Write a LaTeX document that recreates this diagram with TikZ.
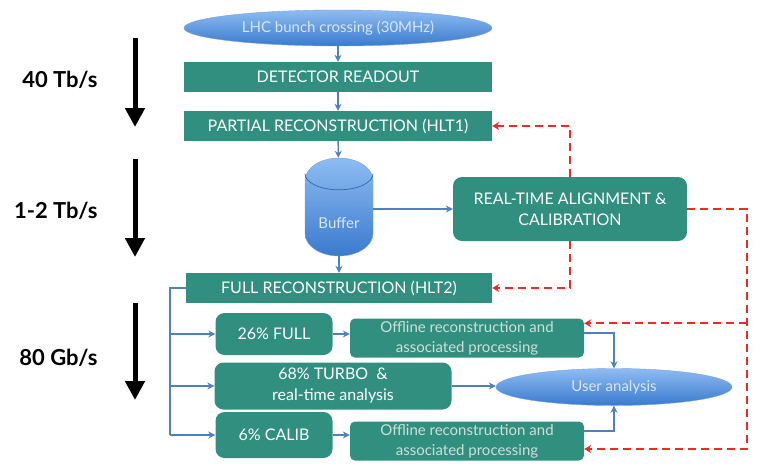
\documentclass[tikz,border=0pt]{standalone}
\usepackage{fontspec}
\setmainfont{Lato}
\usetikzlibrary{positioning,shapes.geometric,arrows.meta}
\definecolor{stageteal}{RGB}{49,143,128}
\definecolor{linkblue}{RGB}{79,129,189}
\definecolor{dashred}{RGB}{238,42,36}
\definecolor{ovallight}{RGB}{142,188,242}
\definecolor{ovaldark}{RGB}{58,122,205}
\definecolor{ovaltext}{RGB}{215,230,248}
\definecolor{softtext}{RGB}{205,224,218}
\tikzset{
	stage/.style={fill=stageteal, text=white, minimum width=308pt, minimum height=30pt, inner sep=0pt, font=\fontsize{16}{19}\selectfont},
	rbox/.style={fill=stageteal, text=white, rounded corners=9pt, align=center, inner sep=0pt, font=\fontsize{16}{21}\selectfont},
	offline/.style={fill=stageteal, text=softtext, rounded corners=5pt, align=center, minimum width=234pt, minimum height=39pt, inner sep=0pt, font=\fontsize{15}{20}\selectfont},
	oval/.style={ellipse, top color=ovallight, bottom color=ovaldark, draw=ovaldark!70, line width=0.4pt, text=ovaltext, inner sep=0pt, font=\fontsize{15}{18}\selectfont},
	flow/.style={linkblue, line width=1.4pt, -{Stealth[length=7pt, width=7pt]}},
	feedback/.style={dashred, line width=2.2pt, dash pattern=on 8pt off 5pt, -{Stealth[length=7pt, width=8pt]}},
	rate/.style={anchor=east, font=\fontsize{22}{25}\selectfont\bfseries},
	ratearrow/.style={line width=5pt, -{Triangle[length=19pt, width=19pt]}}
}

\begin{document}
\begin{tikzpicture}[x=1pt, y=-1pt]
	\useasboundingbox (0,0) rectangle (770,471);

	\node[rate] (rate1) at (101,80) {40 Tb/s};
	\node[rate] (rate2) at (101,211) {1-2 Tb/s};
	\node[rate] (rate3) at (101,358) {80 Gb/s};
	\coordinate (drop1a) at (135,38);
	\coordinate (drop1b) at (135,127);
	\coordinate (drop2a) at (135,159);
	\coordinate (drop2b) at (135,257);
	\coordinate (drop3a) at (135,303);
	\coordinate (drop3b) at (135,400);
	\draw[ratearrow] (drop1a) -- (drop1b);
	\draw[ratearrow] (drop2a) -- (drop2b);
	\draw[ratearrow] (drop3a) -- (drop3b);

	\node[oval, minimum width=308pt, minimum height=36pt] (lhc) at (338,28) {LHC bunch crossing (30MHz)};
	\node[stage] (readout) at (338,77) {DETECTOR READOUT};
	\node[stage] (hlt1) at (338,126) {PARTIAL RECONSTRUCTION (HLT1)};
	\node[cylinder, shape border rotate=90, aspect=0.94, anchor=shape center, minimum width=68pt, minimum height=98pt, top color=ovallight, bottom color=ovaldark, draw=ovaldark!70, line width=0.4pt, text=ovaltext, font=\fontsize{15}{18}\selectfont] (buffer) at (339,207) {Buffer};
	\draw[ovaldark!85!black, line width=0.7pt] ([shift={(-34pt,-16pt)}]buffer.top) arc[start angle=180, end angle=360, x radius=34pt, y radius=16pt];
	\node[rbox, minimum width=234pt, minimum height=64pt] (align) at (570,209) {REAL-TIME ALIGNMENT \&\\CALIBRATION};
	\node[stage, minimum width=306pt] (hlt2) at (339,288) {FULL RECONSTRUCTION (HLT2)};

	\node[rbox, minimum width=117pt, minimum height=42pt] (full) at (274,334) {26\% FULL};
	\node[rbox, minimum width=237pt, minimum height=47pt] (turbo) at (333,386) {68\% TURBO~~\&\\real-time analysis};
	\node[rbox, minimum width=117pt, minimum height=46pt] (calib) at (274,435) {6\% CALIB};
	\node[offline] (off1) at (467,338) {Offline reconstruction and\\associated processing};
	\node[offline] (off2) at (467,441) {Offline reconstruction and\\associated processing};
	\node[oval, minimum width=236pt, minimum height=37pt] (user) at (614,387) {User analysis};

	\draw[flow] (lhc) -- (readout);
	\draw[flow] (readout) -- (hlt1);
	\draw[flow] (hlt1) -- (buffer);
	\draw[flow] (buffer) -- (hlt2);
	\draw[flow] (buffer.east |- align.west) -- (align.west);

	\draw[linkblue, line width=1.4pt] (hlt2.west) -- ++(-16,0) coordinate (trunk) -- (trunk |- calib);
	\draw[flow] (trunk |- full) -- (full);
	\draw[flow] (trunk |- turbo) -- (turbo);
	\draw[flow] (trunk |- calib) -- (calib);
	\draw[flow] (full.east) -- (full.east -| off1.west);
	\draw[flow] (calib.east) -- (calib.east -| off2.west);
	\draw[flow] (turbo) -- (turbo -| user.west);
	\draw[flow] ([yshift=5pt]off1.east) -| (user.north);
	\draw[flow] ([yshift=10pt]off2.east) -| (user.south);

	\draw[feedback] (align.north) |- (hlt1.east);
	\draw[feedback] (align.south) |- (hlt2.east);
	\coordinate (fbturn) at (747,209);
	\coordinate (fbtop) at ([yshift=-5pt]off1.north east);
	\draw[feedback] (align.east) -- (fbturn) |- ([yshift=-8pt]off2.east);
	\draw[feedback] (fbturn |- fbtop) -- (fbtop);

\end{tikzpicture}
\end{document}
